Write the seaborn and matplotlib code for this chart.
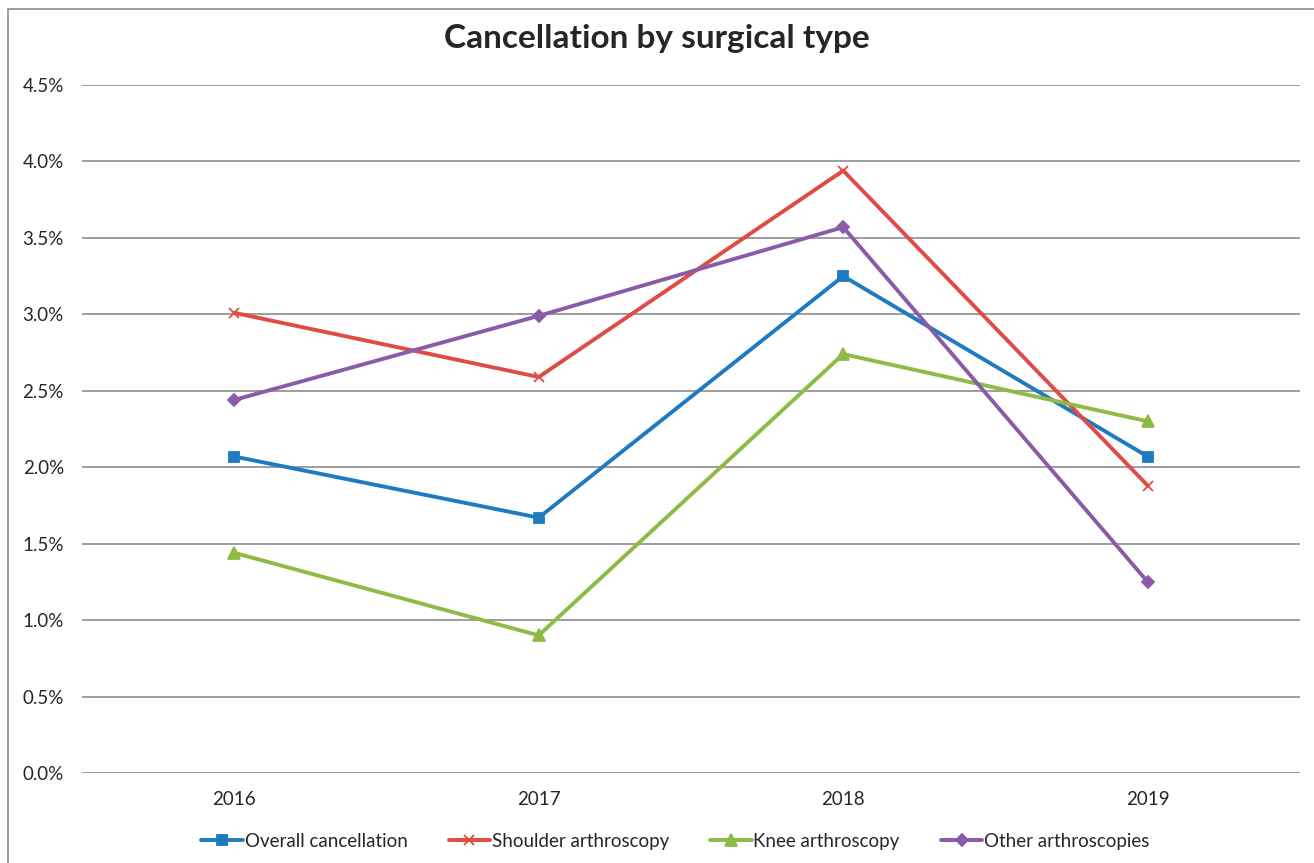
import numpy as np
import pandas as pd
import matplotlib
matplotlib.use("Agg")
import matplotlib.pyplot as plt
import seaborn as sns
from matplotlib.patches import Rectangle
from matplotlib.ticker import FuncFormatter

# Datos
years = ["2016", "2017", "2018", "2019"]
overall = [2.07, 1.67, 3.25, 2.07]
shoulder = [3.01, 2.59, 3.94, 1.88]
knee = [1.44, 0.90, 2.74, 2.30]
other = [2.44, 2.99, 3.57, 1.25]

series_names = ["Overall cancellation", "Shoulder arthroscopy", "Knee arthroscopy", "Other arthroscopies"]
colors = ["#1f7bc1", "#e04b45", "#8dbb45", "#8a5ca8"]
markers = ["s", "x", "^", "D"]
msizes = [7, 7, 8, 6]

sns.set_style("white")
plt.rcParams["font.family"] = ["Lato", "DejaVu Sans"]

fig = plt.figure(figsize=(13.14, 8.63), dpi=100)
ax = fig.add_axes([0.0624, 0.1043, 0.9269, 0.7972])

# una línea por serie (marcadores x y rellenos no se pueden mezclar en seaborn)
for name, vals, c, m, ms in zip(series_names, [overall, shoulder, knee, other], colors, markers, msizes):
    d = pd.DataFrame({"year": years, "value": vals})
    sns.lineplot(data=d, x="year", y="value", color=c, marker=m, markersize=ms,
                 markeredgecolor=c, markerfacecolor=c, markeredgewidth=1.3,
                 linewidth=2.8, sort=False, ax=ax, label=name)

ax.set_xlim(-0.5, 3.5)
ax.set_ylim(0, 4.5)
ax.set_yticks(np.arange(0, 4.51, 0.5))
ax.yaxis.set_major_formatter(FuncFormatter(lambda v, p: f"{v:.1f}%"))
ax.grid(axis="y", color="#8c8c8c", linewidth=1.2)
ax.set_axisbelow(True)
for s in ax.spines.values():
    s.set_visible(False)
ax.tick_params(axis="both", length=0, labelsize=13.5)
ax.tick_params(axis="x", pad=13)
ax.tick_params(axis="y", pad=13)
ax.set_xlabel("")
ax.set_ylabel("")

fig.text(0.5, 0.955, "Cancellation by surgical type", ha="center", va="center",
         fontsize=24, fontweight="bold")

# leyenda abajo
handles, labels = ax.get_legend_handles_labels()
ax.get_legend().remove()
fig.legend(handles, labels, loc="center", bbox_to_anchor=(0.514, 0.025),
           ncol=4, frameon=False, fontsize=13.5, handlelength=2.2,
           handletextpad=0.1, columnspacing=2.2)

fig.patches.append(Rectangle((0.006, -0.01), 1.0, 1.0, transform=fig.transFigure,
                             fill=False, edgecolor="#8c8c8c", linewidth=1.2))

fig.savefig("out.png", dpi=100)
